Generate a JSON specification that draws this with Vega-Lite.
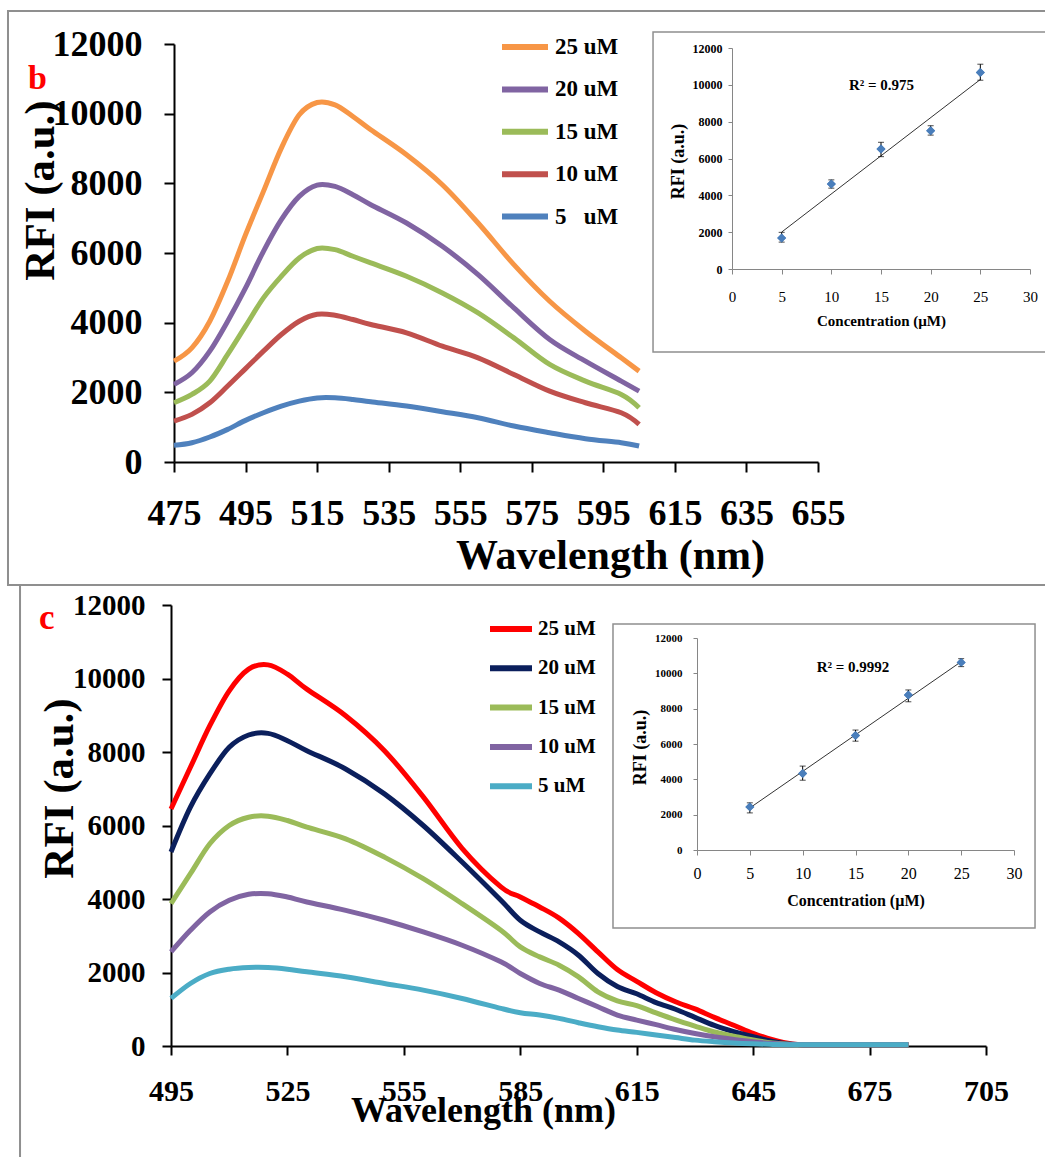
{
  "$schema": "https://vega.github.io/schema/vega-lite/v6.json",
  "width": 1045,
  "height": 1157,
  "padding": 0,
  "autosize": "none",
  "background": "white",
  "config": {
    "view": {"stroke": null},
    "axis": {"grid": false, "labelFlush": false, "labelOverlap": false, "labelFont": "Liberation Serif", "titleFont": "Liberation Serif", "labelColor": "black", "titleColor": "black"},
    "legend": {"labelFont": "Liberation Serif", "labelColor": "black", "labelFontWeight": "bold", "symbolType": "stroke", "symbolStrokeWidth": 6, "title": null},
    "text": {"font": "Liberation Serif"}
  },
  "datasets": {
    "specB": [
      {"s":"25 uM","w":475,"v":2895},{"s":"25 uM","w":480,"v":3278},{"s":"25 uM","w":485,"v":4042},{"s":"25 uM","w":490,"v":5189},{"s":"25 uM","w":495,"v":6527},{"s":"25 uM","w":500,"v":7769},{"s":"25 uM","w":505,"v":9011},{"s":"25 uM","w":510,"v":9967},{"s":"25 uM","w":515,"v":10320},{"s":"25 uM","w":520,"v":10254},{"s":"25 uM","w":525,"v":9919},{"s":"25 uM","w":530,"v":9537},{"s":"25 uM","w":540,"v":8820},{"s":"25 uM","w":550,"v":7960},{"s":"25 uM","w":560,"v":6861},{"s":"25 uM","w":570,"v":5667},{"s":"25 uM","w":580,"v":4615},{"s":"25 uM","w":590,"v":3756},{"s":"25 uM","w":600,"v":2991},{"s":"25 uM","w":605,"v":2609},
      {"s":"20 uM","w":475,"v":2227},{"s":"20 uM","w":480,"v":2561},{"s":"20 uM","w":485,"v":3182},{"s":"20 uM","w":490,"v":4042},{"s":"20 uM","w":495,"v":4998},{"s":"20 uM","w":500,"v":6049},{"s":"20 uM","w":505,"v":6957},{"s":"20 uM","w":510,"v":7626},{"s":"20 uM","w":515,"v":7950},{"s":"20 uM","w":520,"v":7912},{"s":"20 uM","w":525,"v":7673},{"s":"20 uM","w":530,"v":7387},{"s":"20 uM","w":540,"v":6861},{"s":"20 uM","w":550,"v":6193},{"s":"20 uM","w":560,"v":5380},{"s":"20 uM","w":570,"v":4424},{"s":"20 uM","w":580,"v":3517},{"s":"20 uM","w":590,"v":2895},{"s":"20 uM","w":600,"v":2322},{"s":"20 uM","w":605,"v":2035},
      {"s":"15 uM","w":475,"v":1701},{"s":"15 uM","w":480,"v":1940},{"s":"15 uM","w":485,"v":2322},{"s":"15 uM","w":490,"v":3087},{"s":"15 uM","w":495,"v":3899},{"s":"15 uM","w":500,"v":4711},{"s":"15 uM","w":505,"v":5332},{"s":"15 uM","w":510,"v":5858},{"s":"15 uM","w":515,"v":6130},{"s":"15 uM","w":520,"v":6097},{"s":"15 uM","w":525,"v":5906},{"s":"15 uM","w":530,"v":5715},{"s":"15 uM","w":540,"v":5332},{"s":"15 uM","w":550,"v":4854},{"s":"15 uM","w":560,"v":4281},{"s":"15 uM","w":570,"v":3564},{"s":"15 uM","w":580,"v":2800},{"s":"15 uM","w":590,"v":2322},{"s":"15 uM","w":600,"v":1940},{"s":"15 uM","w":605,"v":1558},
      {"s":"10 uM","w":475,"v":1175},{"s":"10 uM","w":480,"v":1367},{"s":"10 uM","w":485,"v":1700},{"s":"10 uM","w":490,"v":2180},{"s":"10 uM","w":495,"v":2680},{"s":"10 uM","w":500,"v":3182},{"s":"10 uM","w":505,"v":3660},{"s":"10 uM","w":510,"v":4042},{"s":"10 uM","w":515,"v":4240},{"s":"10 uM","w":520,"v":4214},{"s":"10 uM","w":525,"v":4090},{"s":"10 uM","w":530,"v":3947},{"s":"10 uM","w":540,"v":3708},{"s":"10 uM","w":550,"v":3326},{"s":"10 uM","w":560,"v":2991},{"s":"10 uM","w":570,"v":2513},{"s":"10 uM","w":580,"v":2035},{"s":"10 uM","w":590,"v":1701},{"s":"10 uM","w":600,"v":1414},{"s":"10 uM","w":605,"v":1080},
      {"s":"5\u00a0\u00a0\u00a0uM","w":475,"v":478},{"s":"5\u00a0\u00a0\u00a0uM","w":480,"v":554},{"s":"5\u00a0\u00a0\u00a0uM","w":485,"v":717},{"s":"5\u00a0\u00a0\u00a0uM","w":490,"v":937},{"s":"5\u00a0\u00a0\u00a0uM","w":495,"v":1195},{"s":"5\u00a0\u00a0\u00a0uM","w":500,"v":1414},{"s":"5\u00a0\u00a0\u00a0uM","w":505,"v":1605},{"s":"5\u00a0\u00a0\u00a0uM","w":510,"v":1749},{"s":"5\u00a0\u00a0\u00a0uM","w":515,"v":1840},{"s":"5\u00a0\u00a0\u00a0uM","w":520,"v":1844},{"s":"5\u00a0\u00a0\u00a0uM","w":525,"v":1797},{"s":"5\u00a0\u00a0\u00a0uM","w":530,"v":1730},{"s":"5\u00a0\u00a0\u00a0uM","w":540,"v":1605},{"s":"5\u00a0\u00a0\u00a0uM","w":550,"v":1443},{"s":"5\u00a0\u00a0\u00a0uM","w":560,"v":1271},{"s":"5\u00a0\u00a0\u00a0uM","w":570,"v":1032},{"s":"5\u00a0\u00a0\u00a0uM","w":580,"v":841},{"s":"5\u00a0\u00a0\u00a0uM","w":590,"v":669},{"s":"5\u00a0\u00a0\u00a0uM","w":600,"v":554},{"s":"5\u00a0\u00a0\u00a0uM","w":605,"v":459}
    ],
    "specC": [
      {"s":"25 uM","w":495,"v":6450},{"s":"25 uM","w":500,"v":7584},{"s":"25 uM","w":505,"v":8715},{"s":"25 uM","w":510,"v":9665},{"s":"25 uM","w":515,"v":10254},{"s":"25 uM","w":520,"v":10371},{"s":"25 uM","w":525,"v":10118},{"s":"25 uM","w":530,"v":9711},{"s":"25 uM","w":540,"v":8987},{"s":"25 uM","w":550,"v":8036},{"s":"25 uM","w":560,"v":6780},{"s":"25 uM","w":570,"v":5380},{"s":"25 uM","w":580,"v":4330},{"s":"25 uM","w":585,"v":4054},{"s":"25 uM","w":590,"v":3783},{"s":"25 uM","w":595,"v":3480},{"s":"25 uM","w":600,"v":3059},{"s":"25 uM","w":605,"v":2561},{"s":"25 uM","w":610,"v":2080},{"s":"25 uM","w":615,"v":1760},{"s":"25 uM","w":620,"v":1450},{"s":"25 uM","w":625,"v":1204},{"s":"25 uM","w":630,"v":1010},{"s":"25 uM","w":635,"v":780},{"s":"25 uM","w":640,"v":565},{"s":"25 uM","w":645,"v":345},{"s":"25 uM","w":650,"v":170},{"s":"25 uM","w":655,"v":55},{"s":"25 uM","w":660,"v":35},{"s":"25 uM","w":670,"v":35},{"s":"25 uM","w":680,"v":35},{"s":"25 uM","w":685,"v":35},
      {"s":"20 uM","w":495,"v":5280},{"s":"20 uM","w":500,"v":6498},{"s":"20 uM","w":505,"v":7403},{"s":"20 uM","w":510,"v":8127},{"s":"20 uM","w":515,"v":8462},{"s":"20 uM","w":520,"v":8507},{"s":"20 uM","w":525,"v":8308},{"s":"20 uM","w":530,"v":8036},{"s":"20 uM","w":540,"v":7539},{"s":"20 uM","w":550,"v":6860},{"s":"20 uM","w":560,"v":6000},{"s":"20 uM","w":570,"v":5005},{"s":"20 uM","w":580,"v":3964},{"s":"20 uM","w":585,"v":3421},{"s":"20 uM","w":590,"v":3104},{"s":"20 uM","w":595,"v":2833},{"s":"20 uM","w":600,"v":2471},{"s":"20 uM","w":605,"v":1973},{"s":"20 uM","w":610,"v":1620},{"s":"20 uM","w":615,"v":1420},{"s":"20 uM","w":620,"v":1180},{"s":"20 uM","w":625,"v":1000},{"s":"20 uM","w":630,"v":780},{"s":"20 uM","w":635,"v":560},{"s":"20 uM","w":640,"v":390},{"s":"20 uM","w":645,"v":253},{"s":"20 uM","w":650,"v":125},{"s":"20 uM","w":655,"v":45},{"s":"20 uM","w":660,"v":35},{"s":"20 uM","w":670,"v":35},{"s":"20 uM","w":680,"v":35},{"s":"20 uM","w":685,"v":35},
      {"s":"15 uM","w":495,"v":3873},{"s":"15 uM","w":500,"v":4688},{"s":"15 uM","w":505,"v":5502},{"s":"15 uM","w":510,"v":6000},{"s":"15 uM","w":515,"v":6226},{"s":"15 uM","w":520,"v":6254},{"s":"15 uM","w":525,"v":6136},{"s":"15 uM","w":530,"v":5955},{"s":"15 uM","w":540,"v":5638},{"s":"15 uM","w":550,"v":5140},{"s":"15 uM","w":560,"v":4552},{"s":"15 uM","w":570,"v":3873},{"s":"15 uM","w":580,"v":3149},{"s":"15 uM","w":585,"v":2697},{"s":"15 uM","w":590,"v":2425},{"s":"15 uM","w":595,"v":2199},{"s":"15 uM","w":600,"v":1882},{"s":"15 uM","w":605,"v":1475},{"s":"15 uM","w":610,"v":1230},{"s":"15 uM","w":615,"v":1100},{"s":"15 uM","w":620,"v":900},{"s":"15 uM","w":625,"v":710},{"s":"15 uM","w":630,"v":540},{"s":"15 uM","w":635,"v":380},{"s":"15 uM","w":640,"v":270},{"s":"15 uM","w":645,"v":163},{"s":"15 uM","w":650,"v":80},{"s":"15 uM","w":655,"v":40},{"s":"15 uM","w":660,"v":35},{"s":"15 uM","w":670,"v":35},{"s":"15 uM","w":680,"v":35},{"s":"15 uM","w":685,"v":35},
      {"s":"10 uM","w":495,"v":2561},{"s":"10 uM","w":500,"v":3149},{"s":"10 uM","w":505,"v":3647},{"s":"10 uM","w":510,"v":3964},{"s":"10 uM","w":515,"v":4127},{"s":"10 uM","w":520,"v":4145},{"s":"10 uM","w":525,"v":4054},{"s":"10 uM","w":530,"v":3919},{"s":"10 uM","w":540,"v":3692},{"s":"10 uM","w":550,"v":3421},{"s":"10 uM","w":560,"v":3104},{"s":"10 uM","w":570,"v":2742},{"s":"10 uM","w":580,"v":2290},{"s":"10 uM","w":585,"v":1973},{"s":"10 uM","w":590,"v":1702},{"s":"10 uM","w":595,"v":1520},{"s":"10 uM","w":600,"v":1294},{"s":"10 uM","w":605,"v":1068},{"s":"10 uM","w":610,"v":842},{"s":"10 uM","w":615,"v":706},{"s":"10 uM","w":620,"v":580},{"s":"10 uM","w":625,"v":450},{"s":"10 uM","w":630,"v":340},{"s":"10 uM","w":635,"v":250},{"s":"10 uM","w":640,"v":180},{"s":"10 uM","w":645,"v":117},{"s":"10 uM","w":650,"v":65},{"s":"10 uM","w":655,"v":40},{"s":"10 uM","w":660,"v":35},{"s":"10 uM","w":670,"v":35},{"s":"10 uM","w":680,"v":35},{"s":"10 uM","w":685,"v":35},
      {"s":"5 uM","w":495,"v":1294},{"s":"5 uM","w":500,"v":1701},{"s":"5 uM","w":505,"v":1973},{"s":"5 uM","w":510,"v":2091},{"s":"5 uM","w":515,"v":2136},{"s":"5 uM","w":520,"v":2136},{"s":"5 uM","w":525,"v":2091},{"s":"5 uM","w":530,"v":2018},{"s":"5 uM","w":540,"v":1882},{"s":"5 uM","w":550,"v":1701},{"s":"5 uM","w":560,"v":1520},{"s":"5 uM","w":570,"v":1294},{"s":"5 uM","w":580,"v":1023},{"s":"5 uM","w":585,"v":905},{"s":"5 uM","w":590,"v":842},{"s":"5 uM","w":595,"v":751},{"s":"5 uM","w":600,"v":634},{"s":"5 uM","w":605,"v":525},{"s":"5 uM","w":610,"v":434},{"s":"5 uM","w":615,"v":371},{"s":"5 uM","w":620,"v":300},{"s":"5 uM","w":625,"v":230},{"s":"5 uM","w":630,"v":160},{"s":"5 uM","w":635,"v":115},{"s":"5 uM","w":640,"v":80},{"s":"5 uM","w":645,"v":58},{"s":"5 uM","w":650,"v":44},{"s":"5 uM","w":655,"v":37},{"s":"5 uM","w":660,"v":35},{"s":"5 uM","w":670,"v":35},{"s":"5 uM","w":680,"v":35},{"s":"5 uM","w":685,"v":35}
    ],
    "ptsB": [
      {"c":5,"v":1680,"lo":1460,"hi":1990},{"c":10,"v":4620,"lo":4390,"hi":4840},{"c":15,"v":6520,"lo":6100,"hi":6880},{"c":20,"v":7510,"lo":7270,"hi":7780},{"c":25,"v":10670,"lo":10250,"hi":11120}
    ],
    "trendB": [{"c":5,"v":2004},{"c":25,"v":10289}],
    "ptsC": [
      {"c":5,"v":2440,"lo":2100,"hi":2670},{"c":10,"v":4330,"lo":3950,"hi":4750},{"c":15,"v":6480,"lo":6160,"hi":6790},{"c":20,"v":8770,"lo":8390,"hi":9060},{"c":25,"v":10620,"lo":10380,"hi":10830}
    ],
    "trendC": [{"c":5,"v":2380},{"c":25,"v":10660}]
  },
  "layer": [
    {
      "layer": [
        {
          "data": {"name": "specB"},
          "mark": {"type": "line", "strokeWidth": 5, "interpolate": "cardinal"},
          "encoding": {
            "x": {"field": "w", "type": "quantitative",
              "scale": {"domain": [475, 655], "range": [174, 818], "nice": false, "zero": false},
              "axis": {"orient": "bottom", "offset": -695, "values": [475,495,515,535,555,575,595,615,635,655], "domainColor": "black", "domainWidth": 2, "tickColor": "black", "tickWidth": 2, "tickSize": 10, "labelFontSize": 36, "labelFontWeight": "bold", "labelPadding": 24, "title": "Wavelength (nm)", "titleFontSize": 42, "titleFontWeight": "bold", "titleX": 610, "titleY": 106, "titleBaseline": "alphabetic", "titleAlign": "center"}},
            "y": {"field": "v", "type": "quantitative",
              "scale": {"domain": [0, 12000], "range": [462, 44], "nice": false, "zero": false},
              "axis": {"orient": "left", "offset": -174, "values": [0,2000,4000,6000,8000,10000,12000], "format": "d", "domainColor": "black", "domainWidth": 2, "tickColor": "black", "tickWidth": 2, "tickSize": 10, "labelFontSize": 36, "labelFontWeight": "bold", "labelPadding": 22, "title": "RFI (a.u.)", "titleFontSize": 43, "titleFontWeight": "bold", "titleAngle": 270, "titleX": -121, "titleY": 190, "titleBaseline": "alphabetic", "titleAlign": "center"}},
            "color": {"field": "s", "type": "nominal",
              "scale": {"domain": ["25 uM","20 uM","15 uM","10 uM","5\u00a0\u00a0\u00a0uM"], "range": ["#F79646","#8064A2","#9BBB59","#C0504D","#4F81BD"]},
              "legend": {"orient": "none", "legendX": 499, "legendY": 21, "symbolSize": 2116, "labelFontSize": 23, "labelOffset": 4, "rowPadding": 4.4}}
          }
        },
        {
          "data": {"values": [{}]},
          "mark": {"type": "rect", "fillOpacity": 0, "stroke": "#8f8f8f", "strokeWidth": 2},
          "encoding": {
            "x": {"datum": 428.6, "type": "quantitative", "scale": {"domain": [475, 655], "range": [174, 818], "nice": false, "zero": false}},
            "x2": {"datum": 719.8},
            "y": {"datum": -3531, "type": "quantitative", "scale": {"domain": [0, 12000], "range": [462, 44], "nice": false, "zero": false}},
            "y2": {"datum": 12947}
          }
        },
        {
          "data": {"values": [{"t": "b"}]},
          "mark": {"type": "text", "color": "#FF0000", "fontSize": 34, "fontWeight": "bold", "baseline": "alphabetic", "align": "center"},
          "encoding": {
            "text": {"field": "t"},
            "x": {"datum": 436.8, "type": "quantitative", "scale": {"domain": [475, 655], "range": [174, 818], "nice": false, "zero": false}},
            "y": {"datum": 10700, "type": "quantitative", "scale": {"domain": [0, 12000], "range": [462, 44], "nice": false, "zero": false}}
          }
        }
      ]
    },
    {
      "layer": [
        {
          "data": {"name": "ptsB"},
          "mark": {"type": "point", "shape": "diamond", "filled": true, "color": "#4a7ebb", "size": 80, "opacity": 1},
          "encoding": {
            "x": {"field": "c", "type": "quantitative",
              "scale": {"domain": [0, 30], "range": [732, 1030], "nice": false, "zero": false},
              "axis": {"orient": "bottom", "offset": -888, "values": [0,5,10,15,20,25,30], "domainColor": "#868686", "tickColor": "#868686", "tickSize": 5, "labelFontSize": 15, "labelPadding": 15, "title": "Concentration (µM)", "titleFontSize": 15, "titleFontWeight": "bold", "titleY": 56, "titleBaseline": "alphabetic"}},
            "y": {"field": "v", "type": "quantitative",
              "scale": {"domain": [0, 12000], "range": [269, 48], "nice": false, "zero": false},
              "axis": {"orient": "left", "offset": -732, "values": [0,2000,4000,6000,8000,10000,12000], "format": "d", "domainColor": "#868686", "tickColor": "#868686", "tickSize": 4, "labelFontSize": 12, "labelFontWeight": "bold", "labelPadding": 6, "title": "RFI (a.u.)", "titleFontSize": 18, "titleFontWeight": "bold", "titleAngle": 270, "titleX": -49, "titleY": 161, "titleBaseline": "alphabetic", "titleAlign": "center"}}
          }
        },
        {
          "data": {"values": [{}]},
          "mark": {"type": "rect", "fillOpacity": 0, "stroke": "#8f8f8f", "strokeWidth": 1.5},
          "encoding": {
            "x": {"datum": -7.95, "type": "quantitative", "scale": {"domain": [0, 30], "range": [732, 1030], "nice": false, "zero": false}},
            "x2": {"datum": 32},
            "y": {"datum": -4507, "type": "quantitative", "scale": {"domain": [0, 12000], "range": [269, 48], "nice": false, "zero": false}},
            "y2": {"datum": 12868}
          }
        },
        {
          "data": {"name": "trendB"},
          "mark": {"type": "line", "color": "#333333", "strokeWidth": 1},
          "encoding": {
            "x": {"field": "c", "type": "quantitative", "scale": {"domain": [0, 30], "range": [732, 1030], "nice": false, "zero": false}},
            "y": {"field": "v", "type": "quantitative", "scale": {"domain": [0, 12000], "range": [269, 48], "nice": false, "zero": false}}
          }
        },
        {
          "data": {"name": "ptsB"},
          "mark": {"type": "rule", "color": "black", "strokeWidth": 1},
          "encoding": {
            "x": {"field": "c", "type": "quantitative", "scale": {"domain": [0, 30], "range": [732, 1030], "nice": false, "zero": false}},
            "y": {"field": "lo", "type": "quantitative", "scale": {"domain": [0, 12000], "range": [269, 48], "nice": false, "zero": false}},
            "y2": {"field": "hi"}
          }
        },
        {
          "data": {"name": "ptsB"},
          "mark": {"type": "tick", "orient": "horizontal", "color": "black", "size": 6, "thickness": 1},
          "encoding": {
            "x": {"field": "c", "type": "quantitative", "scale": {"domain": [0, 30], "range": [732, 1030], "nice": false, "zero": false}},
            "y": {"field": "lo", "type": "quantitative", "scale": {"domain": [0, 12000], "range": [269, 48], "nice": false, "zero": false}}
          }
        },
        {
          "data": {"name": "ptsB"},
          "mark": {"type": "tick", "orient": "horizontal", "color": "black", "size": 6, "thickness": 1},
          "encoding": {
            "x": {"field": "c", "type": "quantitative", "scale": {"domain": [0, 30], "range": [732, 1030], "nice": false, "zero": false}},
            "y": {"field": "hi", "type": "quantitative", "scale": {"domain": [0, 12000], "range": [269, 48], "nice": false, "zero": false}}
          }
        },
        {
          "data": {"name": "ptsB"},
          "mark": {"type": "point", "shape": "diamond", "filled": true, "color": "#4a7ebb", "size": 80, "opacity": 1},
          "encoding": {
            "x": {"field": "c", "type": "quantitative", "scale": {"domain": [0, 30], "range": [732, 1030], "nice": false, "zero": false}},
            "y": {"field": "v", "type": "quantitative", "scale": {"domain": [0, 12000], "range": [269, 48], "nice": false, "zero": false}}
          }
        },
        {
          "data": {"values": [{"t": "R² = 0.975"}]},
          "mark": {"type": "text", "fontSize": 15, "fontWeight": "bold", "color": "black", "baseline": "middle", "align": "center"},
          "encoding": {
            "text": {"field": "t"},
            "x": {"datum": 15.05, "type": "quantitative", "scale": {"domain": [0, 30], "range": [732, 1030], "nice": false, "zero": false}},
            "y": {"datum": 9985, "type": "quantitative", "scale": {"domain": [0, 12000], "range": [269, 48], "nice": false, "zero": false}}
          }
        }
      ]
    },
    {
      "layer": [
        {
          "data": {"name": "specC"},
          "mark": {"type": "line", "strokeWidth": 5, "interpolate": "cardinal"},
          "encoding": {
            "x": {"field": "w", "type": "quantitative",
              "scale": {"domain": [495, 705], "range": [171, 986], "nice": false, "zero": false},
              "axis": {"orient": "bottom", "offset": -111, "values": [495,525,555,585,615,645,675,705], "domainColor": "black", "domainWidth": 2, "tickColor": "black", "tickWidth": 2, "tickSize": 9, "labelFontSize": 30, "labelFontWeight": "bold", "labelPadding": 21, "title": "Wavelength (nm)", "titleFontSize": 36, "titleFontWeight": "bold", "titleX": 483, "titleY": 75, "titleBaseline": "alphabetic", "titleAlign": "center"}},
            "y": {"field": "v", "type": "quantitative",
              "scale": {"domain": [0, 12000], "range": [1046, 605], "nice": false, "zero": false},
              "axis": {"orient": "left", "offset": -171, "values": [0,2000,4000,6000,8000,10000,12000], "format": "d", "domainColor": "black", "domainWidth": 2, "tickColor": "black", "tickWidth": 2, "tickSize": 9, "labelFontSize": 29, "labelFontWeight": "bold", "labelPadding": 17, "title": "RFI (a.u.)", "titleFontSize": 43, "titleFontWeight": "bold", "titleAngle": 270, "titleX": -99, "titleY": 788, "titleBaseline": "alphabetic", "titleAlign": "center"}},
            "color": {"field": "s", "type": "nominal",
              "scale": {"domain": ["25 uM","20 uM","15 uM","10 uM","5 uM"], "range": ["#FF0000","#0B1F5C","#9BBB59","#8064A2","#4BACC6"]},
              "legend": {"orient": "none", "legendX": 487, "legendY": 605, "symbolSize": 1764, "labelFontSize": 21, "labelOffset": 3, "rowPadding": 3.3}}
          }
        },
        {
          "data": {"values": [{}]},
          "mark": {"type": "rect", "fillOpacity": 0, "stroke": "#8f8f8f", "strokeWidth": 2},
          "encoding": {
            "x": {"datum": 456.1, "type": "quantitative", "scale": {"domain": [495, 705], "range": [171, 986], "nice": false, "zero": false}},
            "x2": {"datum": 721.5},
            "y": {"datum": -3238, "type": "quantitative", "scale": {"domain": [0, 12000], "range": [1046, 605], "nice": false, "zero": false}},
            "y2": {"datum": 12544}
          }
        },
        {
          "data": {"values": [{"t": "c"}]},
          "mark": {"type": "text", "color": "#FF0000", "fontSize": 35, "fontWeight": "bold", "baseline": "alphabetic", "align": "center"},
          "encoding": {
            "text": {"field": "t"},
            "x": {"datum": 463.0, "type": "quantitative", "scale": {"domain": [495, 705], "range": [171, 986], "nice": false, "zero": false}},
            "y": {"datum": 11350, "type": "quantitative", "scale": {"domain": [0, 12000], "range": [1046, 605], "nice": false, "zero": false}}
          }
        }
      ]
    },
    {
      "layer": [
        {
          "data": {"name": "ptsC"},
          "mark": {"type": "point", "shape": "diamond", "filled": true, "color": "#4a7ebb", "size": 80, "opacity": 1},
          "encoding": {
            "x": {"field": "c", "type": "quantitative",
              "scale": {"domain": [0, 30], "range": [697, 1014], "nice": false, "zero": false},
              "axis": {"orient": "bottom", "offset": -307, "values": [0,5,10,15,20,25,30], "domainColor": "#868686", "tickColor": "#868686", "tickSize": 5, "labelFontSize": 16, "labelPadding": 10, "title": "Concentration (µM)", "titleFontSize": 16, "titleFontWeight": "bold", "titleY": 55, "titleBaseline": "alphabetic"}},
            "y": {"field": "v", "type": "quantitative",
              "scale": {"domain": [0, 12000], "range": [850, 638], "nice": false, "zero": false},
              "axis": {"orient": "left", "offset": -697, "values": [0,2000,4000,6000,8000,10000,12000], "format": "d", "domainColor": "#868686", "tickColor": "#868686", "tickSize": 4, "labelFontSize": 11, "labelFontWeight": "bold", "labelPadding": 11, "title": "RFI (a.u.)", "titleFontSize": 18, "titleFontWeight": "bold", "titleAngle": 270, "titleX": -52, "titleY": 747, "titleBaseline": "alphabetic", "titleAlign": "center"}}
          }
        },
        {
          "data": {"values": [{}]},
          "mark": {"type": "rect", "fillOpacity": 0, "stroke": "#8f8f8f", "strokeWidth": 1.5},
          "encoding": {
            "x": {"datum": -7.95, "type": "quantitative", "scale": {"domain": [0, 30], "range": [697, 1014], "nice": false, "zero": false}},
            "x2": {"datum": 31.99},
            "y": {"datum": -4415, "type": "quantitative", "scale": {"domain": [0, 12000], "range": [850, 638], "nice": false, "zero": false}},
            "y2": {"datum": 12792}
          }
        },
        {
          "data": {"name": "trendC"},
          "mark": {"type": "line", "color": "#333333", "strokeWidth": 1},
          "encoding": {
            "x": {"field": "c", "type": "quantitative", "scale": {"domain": [0, 30], "range": [697, 1014], "nice": false, "zero": false}},
            "y": {"field": "v", "type": "quantitative", "scale": {"domain": [0, 12000], "range": [850, 638], "nice": false, "zero": false}}
          }
        },
        {
          "data": {"name": "ptsC"},
          "mark": {"type": "rule", "color": "black", "strokeWidth": 1},
          "encoding": {
            "x": {"field": "c", "type": "quantitative", "scale": {"domain": [0, 30], "range": [697, 1014], "nice": false, "zero": false}},
            "y": {"field": "lo", "type": "quantitative", "scale": {"domain": [0, 12000], "range": [850, 638], "nice": false, "zero": false}},
            "y2": {"field": "hi"}
          }
        },
        {
          "data": {"name": "ptsC"},
          "mark": {"type": "tick", "orient": "horizontal", "color": "black", "size": 6, "thickness": 1},
          "encoding": {
            "x": {"field": "c", "type": "quantitative", "scale": {"domain": [0, 30], "range": [697, 1014], "nice": false, "zero": false}},
            "y": {"field": "lo", "type": "quantitative", "scale": {"domain": [0, 12000], "range": [850, 638], "nice": false, "zero": false}}
          }
        },
        {
          "data": {"name": "ptsC"},
          "mark": {"type": "tick", "orient": "horizontal", "color": "black", "size": 6, "thickness": 1},
          "encoding": {
            "x": {"field": "c", "type": "quantitative", "scale": {"domain": [0, 30], "range": [697, 1014], "nice": false, "zero": false}},
            "y": {"field": "hi", "type": "quantitative", "scale": {"domain": [0, 12000], "range": [850, 638], "nice": false, "zero": false}}
          }
        },
        {
          "data": {"name": "ptsC"},
          "mark": {"type": "point", "shape": "diamond", "filled": true, "color": "#4a7ebb", "size": 80, "opacity": 1},
          "encoding": {
            "x": {"field": "c", "type": "quantitative", "scale": {"domain": [0, 30], "range": [697, 1014], "nice": false, "zero": false}},
            "y": {"field": "v", "type": "quantitative", "scale": {"domain": [0, 12000], "range": [850, 638], "nice": false, "zero": false}}
          }
        },
        {
          "data": {"values": [{"t": "R² = 0.9992"}]},
          "mark": {"type": "text", "fontSize": 15, "fontWeight": "bold", "color": "black", "baseline": "middle", "align": "center"},
          "encoding": {
            "text": {"field": "t"},
            "x": {"datum": 14.76, "type": "quantitative", "scale": {"domain": [0, 30], "range": [697, 1014], "nice": false, "zero": false}},
            "y": {"datum": 10343, "type": "quantitative", "scale": {"domain": [0, 12000], "range": [850, 638], "nice": false, "zero": false}}
          }
        }
      ]
    }
  ],
  "resolve": {
    "scale": {"x": "independent", "y": "independent", "color": "independent"},
    "axis": {"x": "independent", "y": "independent"},
    "legend": {"color": "independent"}
  }
}
